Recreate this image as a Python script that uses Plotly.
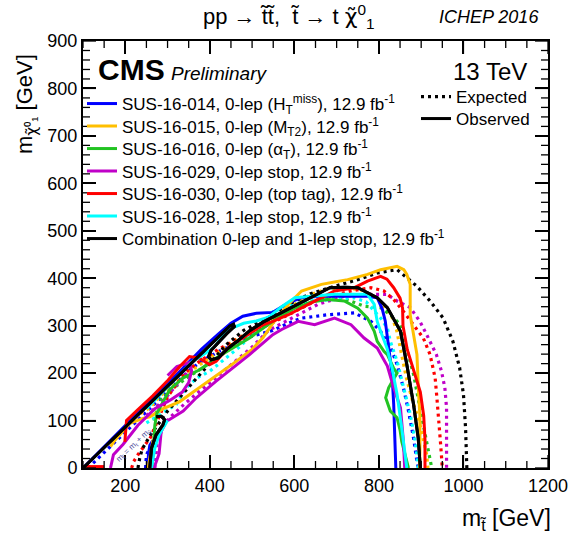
import plotly.graph_objects as go

# ---------------- data ----------------
labels = [
    "SUS-16-014, 0-lep (H<sub>T</sub><sup>miss</sup>), 12.9 fb<sup>-1</sup>",
    "SUS-16-015, 0-lep (M<sub>T2</sub>), 12.9 fb<sup>-1</sup>",
    "SUS-16-016, 0-lep (α<sub>T</sub>), 12.9 fb<sup>-1</sup>",
    "SUS-16-029, 0-lep stop, 12.9 fb<sup>-1</sup>",
    "SUS-16-030, 0-lep (top tag), 12.9 fb<sup>-1</sup>",
    "SUS-16-028, 1-lep stop, 12.9 fb<sup>-1</sup>",
    "Combination 0-lep and 1-lep stop, 12.9 fb<sup>-1</sup>",
]
colors = ["#0000ff", "#ffbf00", "#22c322", "#c000c8", "#ff0000", "#00ffff", "#000000"]

# SUS-16-014
blue_obs_x = [100, 150, 200, 250, 300, 340, 380, 420, 450, 478, 510, 549, 586, 617, 660, 695, 740, 773, 796, 808, 815, 820, 827, 831, 835, 838, 840, None, 253, 255, 258, 265]
blue_obs_y = [0, 45, 90, 134, 177, 214, 250, 282, 305, 320, 326, 328, 348, 359, 362, 362, 362, 362, 359, 335, 310, 274, 230, 200, 134, 63, 0, None, 0, 30, 48, 58]
blue_exp_x = [112, 140, 172, 205, 235, 265, 306, 330, 353, 380, 420, 460, 500, 549, 580, 617, 679, 742, 765, 781, 804, 828, 843, 858, 870, 882, 890, 893, None, 248, 250, 258, 268]
blue_exp_y = [0, 24, 52, 80, 106, 132, 167, 187, 207, 225, 245, 262, 278, 290, 303, 316, 323, 327, 316, 309, 288, 253, 218, 169, 120, 63, 14, 0, None, 0, 28, 42, 50]

# SUS-16-015
yel_obs_x = [165, 176, 211, 240, 258, 290, 329, 369, 408, 455, 500, 526, 549, 586, 617, 664, 695, 726, 773, 804, 843, 859, 866, 874, 874, 882, 890, 894, 897, 897, 896, None, 254, 258, 262, 266]
yel_obs_y = [45, 59, 94, 104, 108, 125, 140, 165, 190, 220, 250, 275, 305, 345, 373, 387, 392, 397, 408, 418, 425, 418, 408, 387, 323, 280, 239, 155, 110, 40, 0, None, 0, 20, 45, 60]
yel_exp_x = [200, 226, 258, 281, 305, 340, 380, 420, 460, 500, 540, 600, 640, 680, 720, 760, 795, 816, 831, 842, 852, 865, 880, 895, 905, 913, 916, None, 262, 264, 268]
yel_exp_y = [85, 109, 127, 150, 170, 195, 220, 245, 270, 290, 312, 345, 366, 378, 380, 375, 358, 337, 318, 290, 245, 190, 140, 100, 60, 28, 0, None, 0, 20, 35]

# SUS-16-016
grn_obs_x = [263, 266, 270, 275, 305, 337, 376, 415, 455, 494, 534, 570, 601, 640, 679, 718, 750, 773, 789, 796, 812, 820, 835, 843, 830, 823, 816, 827, 843, 850, 854, 862, 870]
grn_obs_y = [0, 50, 90, 116, 165, 190, 207, 232, 253, 274, 300, 322, 337, 350, 355, 352, 337, 316, 288, 267, 246, 239, 210, 200, 180, 169, 148, 120, 106, 80, 56, 28, 0]
grn_exp_x = [268, 280, 310, 345, 390, 430, 470, 510, 550, 601, 660, 711, 765, 804, 827, 851, 866, 882, 894, 909, 921, 925, None, 266, 268, 272]
grn_exp_y = [100, 140, 165, 190, 215, 240, 265, 290, 315, 340, 355, 359, 341, 338, 323, 302, 253, 197, 141, 70, 14, 0, None, 0, 30, 55]

# SUS-16-029
mag_obs_x = [268, 280, 285, 297, 337, 368, 415, 455, 494, 549, 570, 609, 648, 695, 734, 765, 796, 820, 835, 851, 858, 861, None, 165, 172, 195, 230, 270, 306, 335, 350, 357, 352, 322, 300]
mag_obs_y = [0, 30, 77, 98, 120, 148, 183, 211, 239, 281, 292, 309, 302, 316, 302, 274, 253, 215, 169, 127, 56, 0, None, 0, 28, 50, 90, 125, 143, 160, 180, 205, 222, 214, 195]
mag_exp_x = [270, 275, 290, 305, 340, 380, 420, 460, 500, 539, 601, 656, 718, 773, 819, 843, 874, 897, 913, 936, 948, 956, 960, 960, 960, None, 250, 289, 329, 350]
mag_exp_y = [0, 50, 90, 106, 135, 165, 195, 225, 255, 290, 320, 345, 362, 366, 366, 352, 338, 309, 281, 239, 204, 169, 127, 56, 0, None, 110, 141, 183, 205]

# SUS-16-030
red_obs_x = [100, 150, None, 199, 203, 230, 265, 301, 330, 352, 375, 392, 400, 415, 447, 478, 526, 549, 586, 640, 695, 742, 773, 804, 819, 835, 850, 856, 857, 867, 882, 898, 906, 909, 909]
red_obs_y = [3, 3, None, 55, 100, 123, 152, 185, 215, 235, 232, 222, 218, 225, 257, 274, 302, 309, 323, 348, 373, 380, 394, 404, 398, 380, 358, 337, 300, 250, 205, 160, 110, 60, 0]
red_exp_x = [215, 220, 230, 260, 300, 340, 376, 420, 470, 539, 586, 656, 734, 781, 812, 835, 858, 882, 905, 921, 933, 937, 942, 946, 950]
red_exp_y = [0, 14, 28, 65, 150, 200, 225, 250, 275, 302, 323, 355, 373, 380, 373, 355, 330, 302, 274, 239, 190, 150, 100, 50, 0]

# SUS-16-028
cyn_obs_x = [250, 300, 337, 360, 395, 411, 431, 445, 480, 510, 539, 570, 601, 650, 695, 740, 773, 789, 796, 804, 819, 831, 843, 854, 862, 866, None, 262, 266, 270, 280, 289, 300]
cyn_obs_y = [125, 170, 205, 225, 245, 255, 280, 292, 305, 310, 318, 340, 359, 363, 366, 366, 366, 345, 309, 288, 253, 211, 155, 84, 28, 0, None, 0, 25, 42, 70, 84, 100]
cyn_exp_x = [250, 290, 321, 344, 370, 400, 430, 470, 510, 550, 600, 633, 695, 742, 770, 789, 804, 820, 827, 843, 858, 874, 886, 893]
cyn_exp_y = [95, 118, 134, 169, 190, 204, 225, 255, 290, 330, 345, 352, 355, 359, 350, 330, 316, 295, 267, 225, 169, 113, 56, 0]

# Combination
blk_obs_x = [100, 150, 200, 250, 300, 350, 400, 430, 447, 456, 458, 440, 420, 403, 397, 403, 420, 440, 463, 495, 527, 566, 605, 645, 684, 720, 750, 796, 820, 851, 866, 882, 893, 898, None, 258, 262, 273, 289, 293, 285, 273]
blk_obs_y = [0, 43, 86, 129, 172, 215, 258, 284, 299, 303, 298, 283, 265, 248, 235, 228, 232, 250, 266, 290, 308, 326, 343, 361, 380, 381, 380, 359, 338, 288, 218, 134, 63, 0, None, 0, 42, 70, 91, 102, 109, 108]
blk_exp_x = [230, 234, 240, 260, 300, 350, 400, 439, 480, 540, 586, 640, 695, 750, 796, 843, 866, 890, 921, 952, 975, 991, 1000, 1005, 1008]
blk_exp_y = [0, 20, 40, 70, 120, 170, 220, 260, 290, 318, 345, 368, 383, 397, 411, 418, 401, 383, 352, 316, 267, 211, 155, 84, 0]

obs_x = [blue_obs_x, yel_obs_x, grn_obs_x, mag_obs_x, red_obs_x, cyn_obs_x, blk_obs_x]
obs_y = [blue_obs_y, yel_obs_y, grn_obs_y, mag_obs_y, red_obs_y, cyn_obs_y, blk_obs_y]
exp_x = [blue_exp_x, yel_exp_x, grn_exp_x, mag_exp_x, red_exp_x, cyn_exp_x, blk_exp_x]
exp_y = [blue_exp_y, yel_exp_y, grn_exp_y, mag_exp_y, red_exp_y, cyn_exp_y, blk_exp_y]

# axes and tick values
X_RANGE = [100, 1200]
Y_RANGE = [0, 900]
x_major = [200, 400, 600, 800, 1000, 1200]
x_minor = [v for v in range(100, 1201, 50) if v not in x_major]
y_major = [0, 100, 200, 300, 400, 500, 600, 700, 800, 900]
y_minor = [v for v in range(0, 901, 20) if v not in y_major]

FONT = "Liberation Sans, Arial, Helvetica, sans-serif"
CHI = '<span style="font-family:DejaVu Sans">χ̃</span>'
DOT = "3px,4px"

# plot-area geometry (pixels)
W, H = 574, 533
L, R, T, B = 83, 26, 41, 65
PW, PH = W - L - R, H - T - B
XU = (X_RANGE[1] - X_RANGE[0]) / PW   # data units per pixel (x)
YU = (Y_RANGE[1] - Y_RANGE[0]) / PH   # data units per pixel (y)
MAJ_LEN, MIN_LEN = 13, 7


def px2paper(px, py):
    return (px - L) / PW, (H - B - py) / PH


fig = go.Figure()

# expected (dotted); the combination's expected curve doubles as the "Expected" key
for i in range(7):
    is_comb = (i == 6)
    fig.add_trace(go.Scatter(x=exp_x[i], y=exp_y[i], mode="lines",
                             line=dict(color=colors[i], width=3.2, dash=DOT),
                             name="Expected" if is_comb else "",
                             legend="legend8", showlegend=is_comb))
# observed (solid)
for i in range(7):
    lg = "legend" if i == 0 else f"legend{i+1}"
    fig.add_trace(go.Scatter(x=obs_x[i], y=obs_y[i], mode="lines",
                             line=dict(color=colors[i], width=3),
                             name=labels[i], legend=lg, showlegend=True))
# "Observed" key: the combination's observed curve drawn once more
fig.add_trace(go.Scatter(x=blk_obs_x, y=blk_obs_y, mode="lines",
                         line=dict(color="black", width=3),
                         name="Observed", legend="legend9", showlegend=True))

# ROOT-style inside tick marks on all four sides, built from the tick value lists
tx, ty = [], []
for vals, ln in ((x_major, MAJ_LEN), (x_minor, MIN_LEN)):
    for v in vals:
        tx += [v, v, None, v, v, None]
        ty += [Y_RANGE[0], Y_RANGE[0] + ln * YU, None, Y_RANGE[1], Y_RANGE[1] - ln * YU, None]
for vals, ln in ((y_major, MAJ_LEN), (y_minor, MIN_LEN)):
    for v in vals:
        tx += [X_RANGE[0], X_RANGE[0] + ln * XU, None, X_RANGE[1], X_RANGE[1] - ln * XU, None]
        ty += [v, v, None, v, v, None]
fig.add_trace(go.Scatter(x=tx, y=ty, mode="lines", line=dict(color="black", width=1.3),
                         showlegend=False, hoverinfo="skip"))

leg_py = [104, 126.5, 149, 171.5, 194, 216.5, 239]
legends = {}
for i, py in enumerate(leg_py):
    key = "legend" if i == 0 else f"legend{i+1}"
    lx, ly = px2paper(82, py)
    legends[key] = dict(x=lx, y=ly, xanchor="left", yanchor="middle",
                        bgcolor="rgba(0,0,0,0)", borderwidth=0,
                        font=dict(family=FONT, size=17, color="black"))
for key, py in (("legend8", 97), ("legend9", 119)):
    lx, ly = px2paper(416, py)
    legends[key] = dict(x=lx, y=ly, xanchor="left", yanchor="middle",
                        bgcolor="rgba(0,0,0,0)", borderwidth=0,
                        font=dict(family=FONT, size=17, color="black"))

fig.update_layout(
    width=W, height=H,
    margin=dict(l=L, r=R, t=T, b=B, autoexpand=False),
    paper_bgcolor="white", plot_bgcolor="white",
    font=dict(family=FONT, color="black"),
    xaxis=dict(range=X_RANGE, tickmode="array", tickvals=x_major,
               showgrid=False, zeroline=False, showline=True, linecolor="black",
               linewidth=2, mirror="allticks", ticks="inside", ticklen=MAJ_LEN,
               tickwidth=1.5, tickcolor="black",
               tickfont=dict(family=FONT, size=18, color="black")),
    yaxis=dict(range=Y_RANGE, tickmode="array", tickvals=y_major,
               showgrid=False, zeroline=False, showline=True, linecolor="black",
               linewidth=2, mirror="allticks", ticks="inside", ticklen=MAJ_LEN,
               tickwidth=1.5, tickcolor="black",
               tickfont=dict(family=FONT, size=18, color="black")),
    **legends,
)

annots = []


def add_text(text, px, py, size, xanchor="center", yanchor="middle", angle=0, color="black"):
    xp, yp = px2paper(px, py)
    annots.append(dict(text=text, x=xp, y=yp, xref="paper", yref="paper", showarrow=False,
                       xanchor=xanchor, yanchor=yanchor, textangle=angle,
                       font=dict(family=FONT, size=size, color=color)))


add_text("pp → t̃t̃,  t̃ → t " + CHI + "<sup>0</sup><sub>1</sub>", 289, 17, 22)
add_text("<i>ICHEP 2016</i>", 541, 17, 18, xanchor="right")
add_text("<b>CMS</b>", 96, 70, 30, xanchor="left")
add_text("<i>Preliminary</i>", 169, 74, 19, xanchor="left")
add_text("13 TeV", 529, 72, 24, xanchor="right")
add_text("m<sub>t̃</sub> [GeV]", 553, 519, 23, xanchor="right")
add_text("m<sub>" + CHI + "⁰₁</sub> [GeV]", 26, 104, 22, angle=-90)

# corridor label (data coordinates)
annots.append(dict(text="m<sub>t̃</sub> = m<sub>t</sub> + m<sub>" + CHI + "</sub>", x=222, y=47,
                   xref="x", yref="y", showarrow=False, textangle=-44,
                   font=dict(family=FONT, size=8, color="#4a4a9a")))
fig.update_layout(annotations=annots)

fig.write_html("out.html")
